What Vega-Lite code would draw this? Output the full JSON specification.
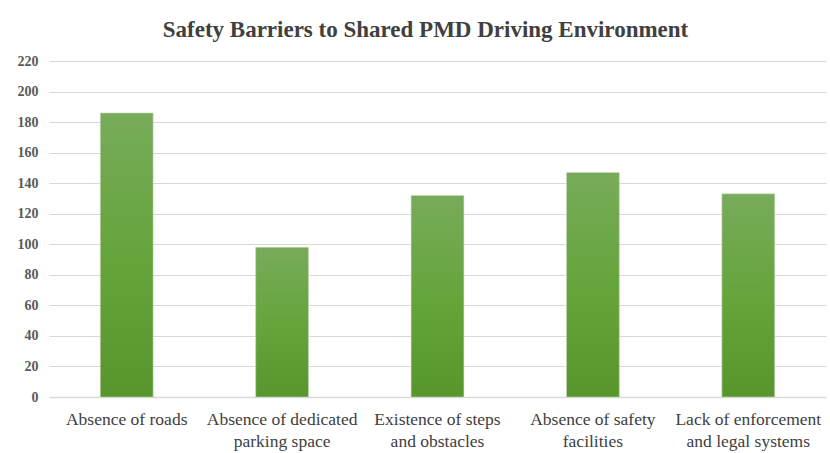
{
  "$schema": "https://vega.github.io/schema/vega-lite/v6.json",
  "width": 777,
  "height": 336,
  "autosize": {"type": "none"},
  "padding": {"left": 49, "top": 61, "right": 4, "bottom": 56},
  "background": "white",
  "title": {
    "text": "Safety Barriers to Shared PMD Driving Environment",
    "font": "Liberation Serif",
    "fontSize": 23,
    "fontWeight": "bold",
    "color": "#404040",
    "anchor": "middle",
    "dx": -12,
    "offset": 12
  },
  "data": {
    "values": [
      {"barrier": "Absence of roads", "count": 186},
      {"barrier": "Absence of dedicated parking space", "count": 98},
      {"barrier": "Existence of steps and obstacles", "count": 132},
      {"barrier": "Absence of safety facilities", "count": 147},
      {"barrier": "Lack of enforcement and legal systems", "count": 133}
    ]
  },
  "mark": {
    "type": "bar",
    "color": {
      "gradient": "linear",
      "x1": 0, "y1": 0, "x2": 0, "y2": 1,
      "stops": [
        {"offset": 0, "color": "#78ab5a"},
        {"offset": 0.5, "color": "#65a53c"},
        {"offset": 1, "color": "#56962d"}
      ]
    },
    "stroke": "#c9d6c0",
    "strokeWidth": 0.6
  },
  "encoding": {
    "x": {
      "field": "barrier",
      "type": "nominal",
      "sort": null,
      "scale": {"paddingInner": 0.66, "paddingOuter": 0.33},
      "axis": {
        "title": null,
        "labelAngle": 0,
        "labelFont": "Liberation Serif",
        "labelFontSize": 17.5,
        "labelColor": "#404040",
        "labelPadding": 13,
        "labelLineHeight": 22,
        "ticks": false,
        "domainColor": "#d9d9d9",
        "domainWidth": 1.5,
        "labelExpr": "datum.value == 'Absence of dedicated parking space' ? ['Absence of dedicated', 'parking space'] : datum.value == 'Existence of steps and obstacles' ? ['Existence of steps', 'and obstacles'] : datum.value == 'Absence of safety facilities' ? ['Absence of safety', 'facilities'] : datum.value == 'Lack of enforcement and legal systems' ? ['Lack of enforcement', 'and legal systems'] : datum.value"
      }
    },
    "y": {
      "field": "count",
      "type": "quantitative",
      "scale": {"domain": [0, 220], "nice": false},
      "axis": {
        "title": null,
        "values": [0, 20, 40, 60, 80, 100, 120, 140, 160, 180, 200, 220],
        "labelFont": "Liberation Serif",
        "labelFontSize": 14,
        "labelFontWeight": "bold",
        "labelColor": "#595959",
        "labelPadding": 11,
        "ticks": false,
        "domain": false,
        "gridColor": "#d9d9d9",
        "gridWidth": 1.2
      }
    }
  },
  "config": {"view": {"stroke": null}}
}
